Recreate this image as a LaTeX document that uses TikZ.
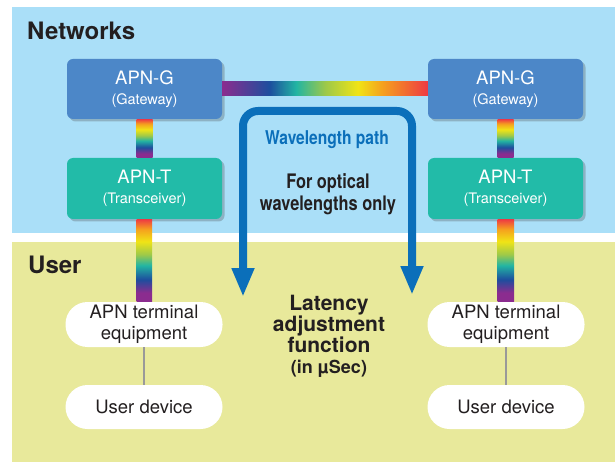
\documentclass[tikz,border=0pt]{standalone}
\usepackage{fontspec}
\setmainfont{TeX Gyre Heros}
\newfontfamily\narrowfont[FakeStretch=0.82]{TeX Gyre Heros}
\usetikzlibrary{shadows,arrows.meta}
\definecolor{netbg}{HTML}{AADFF8}
\definecolor{userbg}{HTML}{E8E99B}
\definecolor{gcol}{HTML}{4C87C8}
\definecolor{tcol}{HTML}{22BBA8}
\definecolor{wlblue}{HTML}{0B6FBA}
\definecolor{txt}{HTML}{231F20}
\definecolor{rbpurple}{HTML}{8B2C8F}
\definecolor{rbblue}{HTML}{1D4E9E}
\definecolor{rbteal}{HTML}{22B5A3}
\definecolor{rbgreen}{HTML}{9CC84A}
\definecolor{rbyellow}{HTML}{F0E416}
\definecolor{rborange}{HTML}{F5A01E}
\definecolor{rbred}{HTML}{EE3A43}
\pgfdeclarehorizontalshading{rainbowH}{100bp}{color(0bp)=(rbpurple); color(25bp)=(rbpurple); color(36.5bp)=(rbblue); color(43bp)=(rbteal); color(50bp)=(rbgreen); color(58bp)=(rbyellow); color(64bp)=(rborange); color(75bp)=(rbred); color(100bp)=(rbred)}
\pgfdeclareverticalshading{rainbowV}{100bp}{color(0bp)=(rbpurple); color(30.5bp)=(rbpurple); color(38.5bp)=(rbblue); color(47bp)=(rbteal); color(53.5bp)=(rbgreen); color(61.5bp)=(rbyellow); color(69bp)=(rborange); color(75bp)=(rbred); color(100bp)=(rbred)}
\tikzset{
  apnbox/.style={rounded corners=6pt, minimum width=155pt, text=white, align=center,
    inner sep=0pt, font=\fontsize{14.5}{20}\selectfont,
    drop shadow={shadow xshift=2.5pt, shadow yshift=-2.5pt, opacity=0.3, fill=black!70}},
  gbox/.style={apnbox, fill=gcol, minimum height=60pt},
  tbox/.style={apnbox, fill=tcol, minimum height=61pt},
  pill/.style={fill=white, rounded corners=22pt, minimum width=157pt, inner sep=0pt, align=center,
    text=txt, font=\fontsize{18.5}{21}\selectfont},
  heading/.style={anchor=base west, text=txt, font=\bfseries\fontsize{24}{28}\selectfont, inner sep=0pt},
  vbar/.style={shading=rainbowV},
  hbar/.style={shading=rainbowH},
  wlarrow/.style={draw=wlblue, line width=8pt, rounded corners=15pt,
    {Triangle[width=21pt,length=29pt]}-{Triangle[width=21pt,length=29pt]}},
  link/.style={draw=black!40, line width=2pt},
  midtext/.style={text=txt, align=center, inner sep=0pt},
}
\newcommand{\mainlbl}[2]{{\fontsize{18.5}{20}\selectfont #1}\\#2}
\begin{document}
\begin{tikzpicture}[x=1pt,y=-1pt]
\useasboundingbox (0,0) rectangle (615,462);
\fill[white] (0,0) rectangle (615,462);
% backgrounds
\fill[netbg] (12,7) rectangle (615,233);
\fill[userbg] (12,242) rectangle (615,462);
\node[heading] (hnet) at (27,40) {Networks};
\node[heading] (huser) at (28,273) {User};
% left column
\node[gbox] (gL) at (144.5,89) {\mainlbl{APN-G}{(Gateway)}};
\node[tbox] (tL) at (144.5,188.5) {\mainlbl{APN-T}{(Transceiver)}};
\node[pill, minimum height=45pt] (eL) at (144,324.5) {APN terminal\\equipment};
\node[pill, minimum height=44pt] (uL) at (144,407) {User device};
% right column
\node[gbox] (gR) at (505.5,89) {\mainlbl{APN-G}{(Gateway)}};
\node[tbox] (tR) at (505.5,188.5) {\mainlbl{APN-T}{(Transceiver)}};
\node[pill, minimum height=45pt] (eR) at (506,324.5) {APN terminal\\equipment};
\node[pill, minimum height=44pt] (uR) at (506,407) {User device};
% rainbow links
\path[hbar] ([yshift=7pt]gL.east) rectangle ([yshift=-7pt]gR.west);
\path[vbar] ([xshift=-8pt]gL.south) rectangle ([xshift=8pt]tL.north);
\path[vbar] ([xshift=-8pt]tL.south) rectangle ([xshift=8pt]eL.north);
\path[vbar] ([xshift=-8pt]gR.south) rectangle ([xshift=8pt]tR.north);
\path[vbar] ([xshift=-8pt]tR.south) rectangle ([xshift=8pt]eR.north);
% grey links
\draw[link] (eL.south) -- (uL.north);
\draw[link] (eR.south) -- (uR.north);
% wavelength path
\coordinate (wlA) at (243,297);
\coordinate (wlB) at (412,295);
\coordinate (wlTop) at (327.5,111);
\draw[wlarrow] (wlA) |- (wlTop) -| (wlB);
\node[midtext, text=wlblue, font=\narrowfont\bfseries\fontsize{19}{22}\selectfont] (wlt) at (327,140) {Wavelength path};
\node[midtext, font=\narrowfont\bfseries\fontsize{20}{21.5}\selectfont] (opt) at (328,194) {For optical\\wavelengths only};
\node[midtext, font=\bfseries\fontsize{21}{21}\selectfont] (lat) at (329,336) {Latency\\adjustment\\function\\{\fontsize{18}{21}\selectfont (in µSec)}};
\end{tikzpicture}
\end{document}
